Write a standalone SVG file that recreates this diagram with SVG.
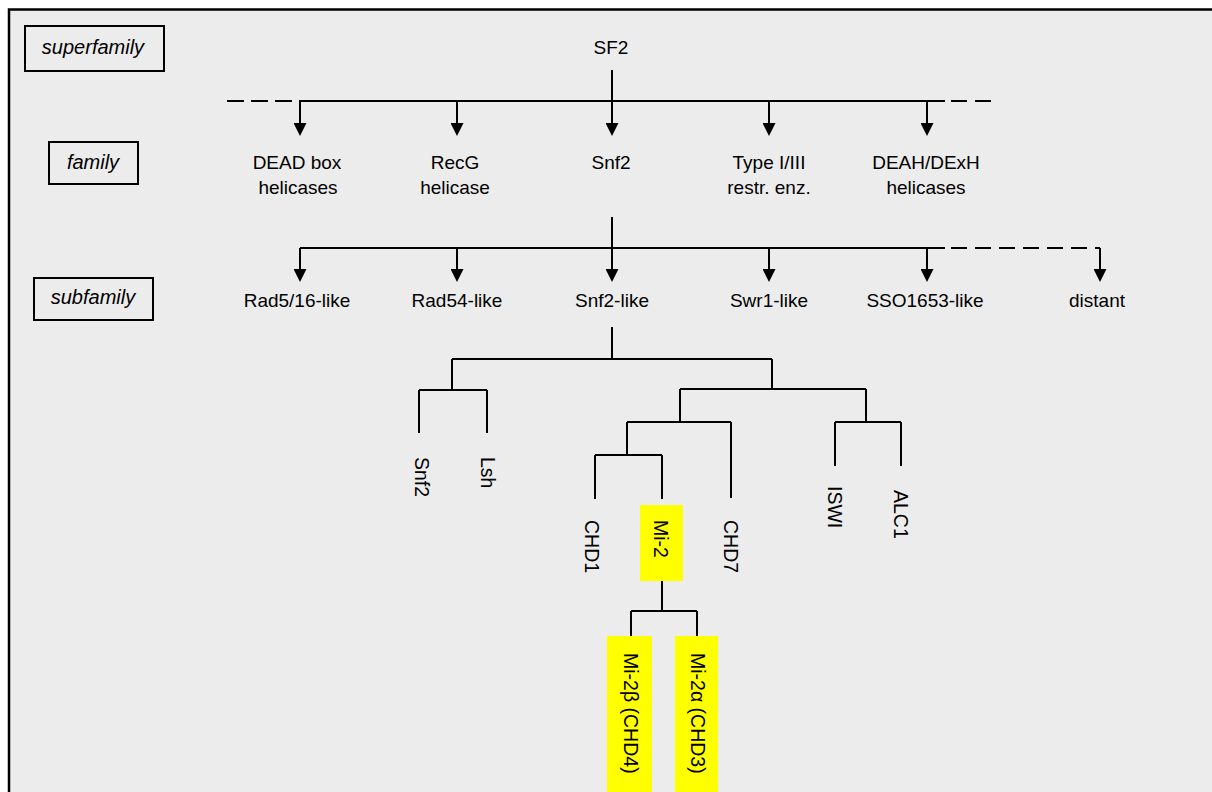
<svg xmlns="http://www.w3.org/2000/svg" width="1212" height="792" viewBox="0 0 1212 792">
<style>
text{font-family:"Liberation Sans",Arial,sans-serif;font-size:19px;fill:#000}
.c{text-anchor:middle}
.lv{font-style:italic;font-size:20px;text-anchor:middle}
.box{fill:none;stroke:#000;stroke-width:2}
.hl{fill:#ffff00;stroke:none}
.ln{fill:none;stroke:#000;stroke-width:2}
.ds{fill:none;stroke:#000;stroke-width:2;stroke-dasharray:16 8}
.ar{marker-end:url(#ah)}
.rt{font-size:19.5px}
</style>
<defs>
<marker id="ah" markerUnits="userSpaceOnUse" markerWidth="13" markerHeight="13" viewBox="0 0 13 13" refX="0" refY="6.5" orient="auto">
<path d="M0,0 L13,6.5 L0,13 z" fill="#000"/>
</marker>
</defs>
<rect width="1212" height="792" fill="#fff"/>
<rect x="9" y="9.5" width="1220" height="800" fill="#ececec" stroke="#000" stroke-width="2.5"/>

<g id="level-superfamily"><rect class="box" x="25" y="26" width="139" height="45"/><text class="lv" x="93" y="54">superfamily</text></g>
<g id="level-family"><rect class="box" x="49" y="142" width="89" height="42"/><text class="lv" x="93" y="169">family</text></g>
<g id="level-subfamily"><rect class="box" x="34" y="278" width="119" height="42"/><text class="lv" x="93" y="304">subfamily</text></g>

<g id="connectors">
<path class="ln" d="M612,70 V101"/>
<path class="ds" d="M227,101 H300" style="stroke-dasharray:17 7"/>
<path class="ln" d="M300,101 H945"/>
<path class="ds" d="M951,101 H993"/>
<path class="ln ar" d="M300,101 V123"/>
<path class="ln ar" d="M457,101 V123"/>
<path class="ln ar" d="M612,101 V123"/>
<path class="ln ar" d="M769,101 V123"/>
<path class="ln ar" d="M927,101 V123"/>

<path class="ln" d="M612,217 V248"/>
<path class="ln" d="M300,248 H945"/>
<path class="ds" d="M951,248 H1100"/>
<path class="ln ar" d="M1100,248 V269"/>
<path class="ln ar" d="M300,248 V269"/>
<path class="ln ar" d="M457,248 V269"/>
<path class="ln ar" d="M612,248 V269"/>
<path class="ln ar" d="M769,248 V269"/>
<path class="ln ar" d="M927,248 V269"/>

<path class="ln" d="M612,327 V359 M452,359 H772 M452,359 V390 M419,390 H487 M419,390 V433 M487,390 V433"/>
<path class="ln" d="M772,359 V389 M680,389 H866 M680,389 V422 M627,422 H731 M731,422 V498 M627,422 V455 M595,455 H662 M595,455 V499 M662,455 V499"/>
<path class="ln" d="M866,389 V422 M835,422 H901 M835,422 V466 M901,422 V466"/>
<path class="ln" d="M662,581 V611 M631,611 H697 M631,611 V636 M697,611 V636"/>
</g>

<g id="n-SF2"><text class="c" x="611" y="54">SF2</text></g>
<g id="n-DEAD"><text class="c" x="297" y="169">DEAD box</text><text class="c" x="298" y="194">helicases</text></g>
<g id="n-RecG"><text class="c" x="455" y="169">RecG</text><text class="c" x="455" y="194">helicase</text></g>
<g id="n-Snf2fam"><text class="c" x="611" y="169">Snf2</text></g>
<g id="n-TypeI"><text class="c" x="769" y="169">Type I/III</text><text class="c" x="769" y="194">restr. enz.</text></g>
<g id="n-DEAH"><text class="c" x="926" y="169">DEAH/DExH</text><text class="c" x="926" y="194">helicases</text></g>

<g id="n-Rad5"><text class="c" x="297" y="307">Rad5/16-like</text></g>
<g id="n-Rad54"><text class="c" x="457" y="307">Rad54-like</text></g>
<g id="n-Snf2like"><text class="c" x="612" y="307">Snf2-like</text></g>
<g id="n-Swr1"><text class="c" x="769" y="307">Swr1-like</text></g>
<g id="n-SSO"><text class="c" x="925" y="307">SSO1653-like</text></g>
<g id="n-distant"><text class="c" x="1097" y="307">distant</text></g>

<g id="n-Snf2"><text class="rt" transform="translate(414.5,457) rotate(90)">Snf2</text></g>
<g id="n-Lsh"><text class="rt" transform="translate(480.5,457) rotate(90)">Lsh</text></g>
<g id="n-CHD1"><text class="rt" transform="translate(584.5,520) rotate(90)">CHD1</text></g>
<g id="n-Mi2"><rect class="hl" x="640" y="505" width="43" height="76"/><text class="rt" transform="translate(653.5,520) rotate(90)">Mi-2</text></g>
<g id="n-CHD7"><text class="rt" transform="translate(723.5,520) rotate(90)">CHD7</text></g>
<g id="n-ISWI"><text class="rt" transform="translate(827.5,486) rotate(90)">ISWI</text></g>
<g id="n-ALC1"><text class="rt" transform="translate(893.5,490) rotate(90)">ALC1</text></g>
<g id="n-CHD4"><rect class="hl" x="607" y="636" width="45" height="170"/><text class="rt" transform="translate(623.5,653) rotate(90)">Mi-2β (CHD4)</text></g>
<g id="n-CHD3"><rect class="hl" x="675" y="636" width="43" height="170"/><text class="rt" transform="translate(690.5,653) rotate(90)">Mi-2α (CHD3)</text></g>
</svg>
